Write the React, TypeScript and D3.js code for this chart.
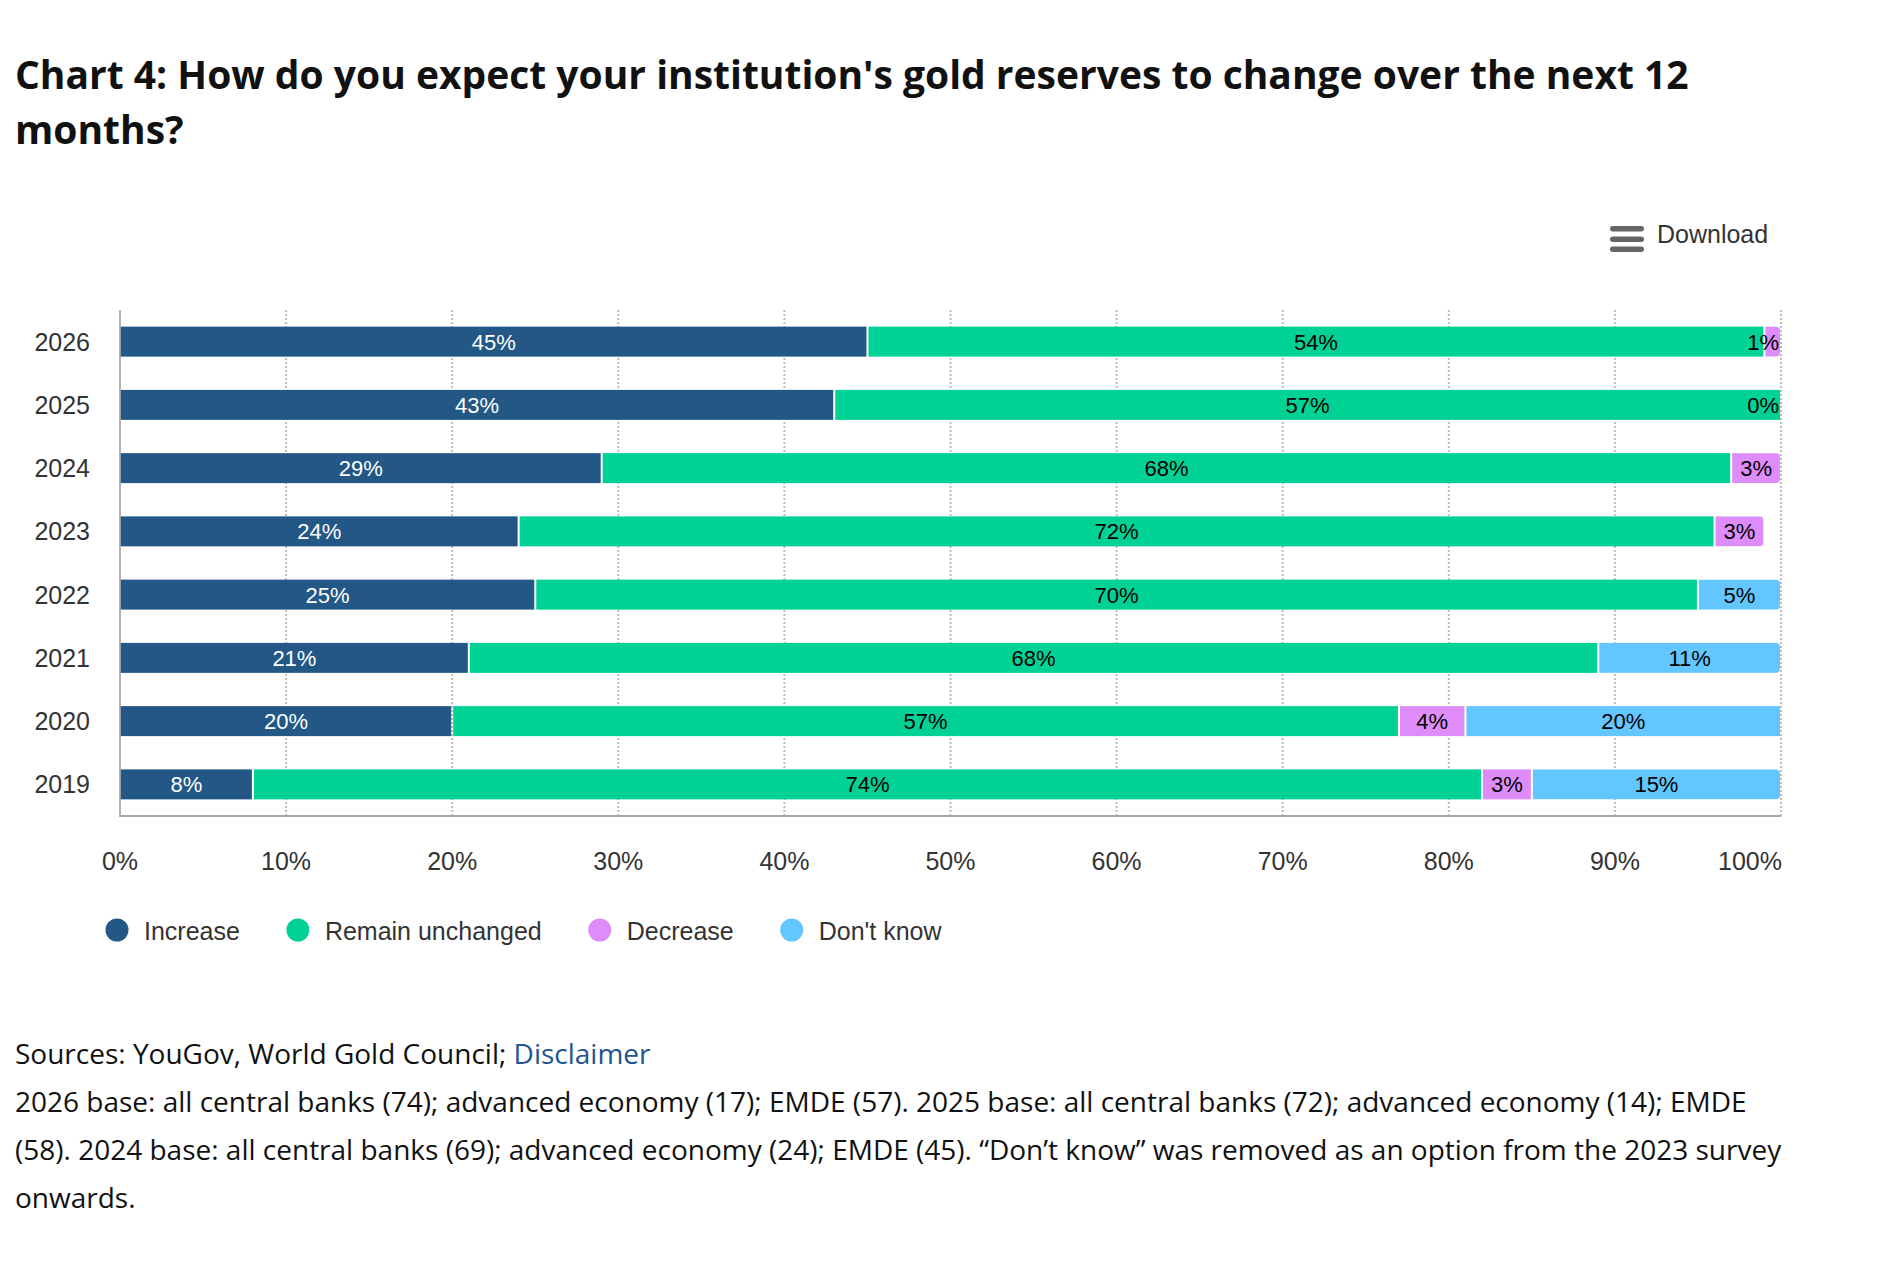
import React from 'react';
import * as d3 from 'd3';

// survey years, top to bottom
const years = ['2026', '2025', '2024', '2023', '2022', '2021', '2020', '2019'];

const increase = [45, 43, 29, 24, 25, 21, 20, 8];
const unchanged = [54, 57, 68, 72, 70, 68, 57, 74];
const decrease = [1, 0, 3, 3, null, null, 4, 3];
const dontKnow = [null, null, null, null, 5, 11, 20, 15];

const seriesNames = ['Increase', 'Remain unchanged', 'Decrease', "Don't know"];
const seriesColors = ['#225786', '#00D296', '#DD8CFA', '#63C6FF'];
const labelColors = ['#ffffff', '#000000', '#000000', '#000000'];

const xTicks = [0, 10, 20, 30, 40, 50, 60, 70, 80, 90, 100];

const CHART_FONT = '"Liberation Sans", Arial, Helvetica, sans-serif';
const TEXT_FONT = '"Open Sans", "Noto Sans", sans-serif';

let ctx: CanvasRenderingContext2D | null = null;
const measure = (txt: string, font: string) => {
  if (!ctx) ctx = document.createElement('canvas').getContext('2d');
  if (!ctx) return txt.length * 12;
  ctx.font = font;
  return ctx.measureText(txt).width;
};

// bar with square left side and rounded right corners
const roundedRight = (x0: number, y0: number, w: number, h: number, r: number) => {
  const rr = Math.min(r, w / 2, h / 2);
  return `M${x0},${y0}H${x0 + w - rr}A${rr},${rr} 0 0 1 ${x0 + w},${y0 + rr}V${y0 + h - rr}A${rr},${rr} 0 0 1 ${x0 + w - rr},${y0 + h}H${x0}Z`;
};

const App: React.FC = () => {
  const W = 1884, H = 1282;
  const left = 120, right = 1781, top = 310, bottom = 816;

  const x = d3.scaleLinear().domain([0, 100]).range([left, right]);
  const y = d3.scaleBand().domain(years).range([top, bottom]).paddingInner(0.526).paddingOuter(0.263);

  const series = [increase, unchanged, decrease, dontKnow];

  const labelFont = `22px ${CHART_FONT}`;

  const bars: React.ReactNode[] = [];
  const labels: React.ReactNode[] = [];

  years.forEach((yr, i) => {
    const y0 = y(yr) || 0;
    const bh = y.bandwidth();
    // last non-null segment is the stack end
    let lastIdx = -1;
    series.forEach((s, k) => { if (s[i] !== null) lastIdx = k; });
    let acc = 0;
    series.forEach((s, k) => {
      const v = s[i];
      if (v === null) return;
      const start = acc;
      const end = acc + v;
      acc = end;
      const clipped = end > 100;
      const xs = x(start);
      const xe = x(Math.min(end, 100));
      const gapL = start > 0 ? 1 : 0.5;
      const w = xe - xs - gapL - 1;
      if (v > 0 && w > 0) {
        if (k === lastIdx && !clipped) {
          bars.push(<path key={`b${i}-${k}`} d={roundedRight(xs + gapL, y0, w, bh, 4)} fill={seriesColors[k]} />);
        } else {
          bars.push(<rect key={`b${i}-${k}`} x={xs + gapL} y={y0} width={w} height={bh} fill={seriesColors[k]} />);
        }
      }
      const txt = `${v}%`;
      const tw = measure(txt, labelFont);
      let cx = (xs + xe) / 2;
      if (cx + tw / 2 > right - 2) cx = right - 2 - tw / 2;
      labels.push(
        <text key={`l${i}-${k}`} x={cx} y={y0 + bh / 2 + 8} textAnchor="middle"
          fontFamily={CHART_FONT} fontSize={22} fill={labelColors[k]}>{txt}</text>
      );
    });
  });

  // legend layout
  const legendFont = `25px ${CHART_FONT}`;
  let lx = 117;
  const legendItems = seriesNames.map((name, k) => {
    const cx = lx;
    const tw = measure(name, legendFont);
    lx = cx + 27 + tw + 58;
    return (
      <g key={name}>
        <circle cx={cx} cy={930} r={11.5} fill={seriesColors[k]} />
        <text x={cx + 27} y={940} fontFamily={CHART_FONT} fontSize={25} fill="#333">{name}</text>
      </g>
    );
  });

  return (
    <div style={{ position: 'absolute', left: 0, top: 0, width: W, height: H, background: '#fff' }}>
      <svg width={W} height={H} viewBox={`0 0 ${W} ${H}`}>
        <rect width={W} height={H} fill="#fff" />

        {/* title */}
        <g fontFamily={TEXT_FONT} fontWeight={700} fontSize={39} fill="#111">
          <text x={15} y={89}>Chart 4: How do you expect your institution's gold reserves to change over the next 12</text>
          <text x={15} y={144}>months?</text>
        </g>

        {/* download button */}
        <g fill="#666">
          <rect x={1610} y={226} width={34} height={5.5} rx={2.75} />
          <rect x={1610} y={236.5} width={34} height={5.5} rx={2.75} />
          <rect x={1610} y={246.5} width={34} height={5.5} rx={2.75} />
        </g>
        <text x={1657} y={243} fontFamily={CHART_FONT} fontSize={25} fill="#333">Download</text>

        {/* gridlines */}
        {xTicks.filter(t => t > 0).map(t => (
          <line key={`g${t}`} x1={x(t)} x2={x(t)} y1={top} y2={bottom} stroke="#bdbdbd" strokeWidth={2} strokeDasharray="2,2" />
        ))}

        {bars}

        {/* axes */}
        <line x1={left} x2={left} y1={top} y2={bottom + 1} stroke="#999" strokeWidth={1.5} />
        <line x1={left} x2={right} y1={bottom} y2={bottom} stroke="#a6a6a6" strokeWidth={2} />

        {labels}

        {/* category labels */}
        {years.map(yr => (
          <text key={`y${yr}`} x={90} y={(y(yr) || 0) + y.bandwidth() / 2 + 9} textAnchor="end"
            fontFamily={CHART_FONT} fontSize={25} fill="#333">{yr}</text>
        ))}

        {/* x tick labels, last one kept inside the plot edge */}
        {xTicks.map(t => {
          const last = t === xTicks[xTicks.length - 1];
          return (
            <text key={`x${t}`} x={last ? right + 1 : x(t)} y={870} textAnchor={last ? 'end' : 'middle'}
              fontFamily={CHART_FONT} fontSize={25} fill="#333">{`${t}%`}</text>
          );
        })}

        {legendItems}

        {/* footnotes */}
        <g fontFamily={TEXT_FONT} fontSize={28} fill="#111">
          <text x={15} y={1064}>Sources: YouGov, World Gold Council; <tspan fill="#1f5591">Disclaimer</tspan></text>
          <text x={15} y={1112}>2026 base: all central banks (74); advanced economy (17); EMDE (57). 2025 base: all central banks (72); advanced economy (14); EMDE</text>
          <text x={15} y={1160}>(58). 2024 base: all central banks (69); advanced economy (24); EMDE (45). “Don’t know” was removed as an option from the 2023 survey</text>
          <text x={15} y={1208}>onwards.</text>
        </g>
      </svg>
    </div>
  );
};

export default App;
